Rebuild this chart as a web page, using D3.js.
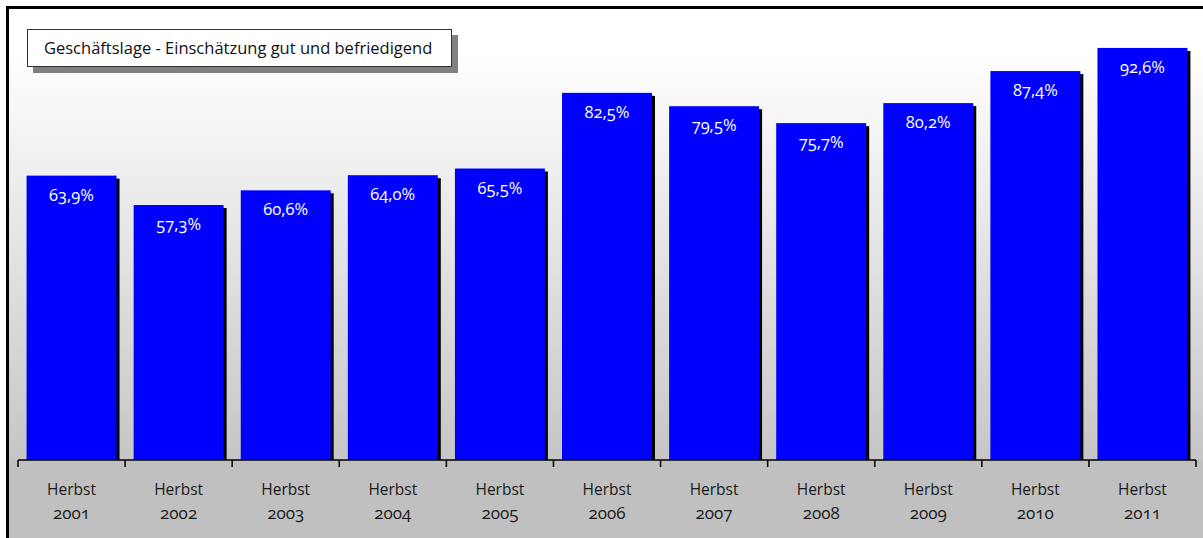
<!DOCTYPE html>
<html><head><meta charset="utf-8">
<script src="https://cdn.jsdelivr.net/npm/d3@7"></script>
<style>
html,body{margin:0;padding:0;background:#fff;overflow:hidden;}
svg{display:block;font-family:"Open Sans","Lato",sans-serif;font-variant-numeric:oldstyle-nums;font-feature-settings:"onum" 1;}
</style></head>
<body><svg id="c" width="1203" height="538"></svg>
<script>
const categories = ["2001","2002","2003","2004","2005","2006","2007","2008","2009","2010","2011"];
const catPrefix = "Herbst";
const values = [63.9,57.3,60.6,64.0,65.5,82.5,79.5,75.7,80.2,87.4,92.6];
const title = "Geschäftslage - Einschätzung gut und befriedigend";

const svg = d3.select("#c");
const defs = svg.append("defs");
const grad = defs.append("linearGradient").attr("id","bg").attr("x1",0).attr("y1",0).attr("x2",0).attr("y2",1);
grad.append("stop").attr("offset","0%").attr("stop-color","#ffffff");
grad.append("stop").attr("offset","10%").attr("stop-color","#ffffff");
grad.append("stop").attr("offset","100%").attr("stop-color","#c6c6c6");

const axisY = 460, left = 18, right = 1196;
// background
svg.append("rect").attr("x",8).attr("y",8).attr("width",1203).attr("height",axisY-8).attr("fill","url(#bg)");
svg.append("rect").attr("x",8).attr("y",axisY).attr("width",1203).attr("height",100).attr("fill","#c0c0c0");

const x = d3.scaleBand().domain(categories).range([left,right]).paddingInner(0.16).paddingOuter(0.08);
const y = d3.scaleLinear().domain([0,100]).range([axisY,15]);
const fmt = v => d3.format(".1f")(v).replace(".",",") + "%";

const data = categories.map((c,i)=>({c, v: values[i]}));
// shadows
svg.append("g").selectAll("rect").data(data).join("rect")
  .attr("x", d=>x(d.c)+3).attr("y", d=>y(d.v)+3)
  .attr("width", x.bandwidth()).attr("height", d=>axisY - y(d.v) - 3)
  .attr("fill","#000");
// bars
svg.append("g").selectAll("rect").data(data).join("rect")
  .attr("x", d=>x(d.c)).attr("y", d=>y(d.v))
  .attr("width", x.bandwidth()).attr("height", d=>axisY - y(d.v))
  .attr("fill","#0000ff");
// labels
svg.append("g").selectAll("text").data(data).join("text")
  .attr("x", d=>x(d.c)+x.bandwidth()/2).attr("y", d=>y(d.v)+25)
  .attr("text-anchor","middle").attr("fill","#fff").attr("font-size",16.5)
  .text(d=>fmt(d.v));

// axis
const step = x.step(), off = (step - x.bandwidth())/2;
const ticks = categories.map(c=>x(c)-off).concat([right]);
svg.append("line").attr("x1",left).attr("x2",right).attr("y1",axisY).attr("y2",axisY).attr("stroke","#000").attr("stroke-width",1.5);
svg.append("g").selectAll("line").data(ticks).join("line")
  .attr("x1",d=>d).attr("x2",d=>d).attr("y1",axisY).attr("y2",axisY+7)
  .attr("stroke","#000").attr("stroke-width",1.5);
const lab = svg.append("g").selectAll("text").data(categories).join("text")
  .attr("text-anchor","middle").attr("fill","#1a1a1a");
lab.append("tspan").attr("x",d=>x(d)+x.bandwidth()/2).attr("y",495).attr("font-size",15.5).text(catPrefix);
lab.append("tspan").attr("x",d=>x(d)+x.bandwidth()/2).attr("y",519).attr("font-size",17).text(d=>d);

// title box
svg.append("rect").attr("x",33).attr("y",35).attr("width",425).attr("height",38).attr("fill","#808080");
svg.append("rect").attr("x",27.5).attr("y",29.5).attr("width",424).attr("height",37).attr("fill","#fff").attr("stroke","#333").attr("stroke-width",1);
svg.append("text").attr("x",44).attr("y",53.5).attr("font-size",16.5).attr("fill","#111").text(title);

// outer border (top and left visible)
svg.append("path").attr("d","M7.5,540 V7.5 H1205").attr("fill","none").attr("stroke","#000").attr("stroke-width",3);
</script></body></html>
